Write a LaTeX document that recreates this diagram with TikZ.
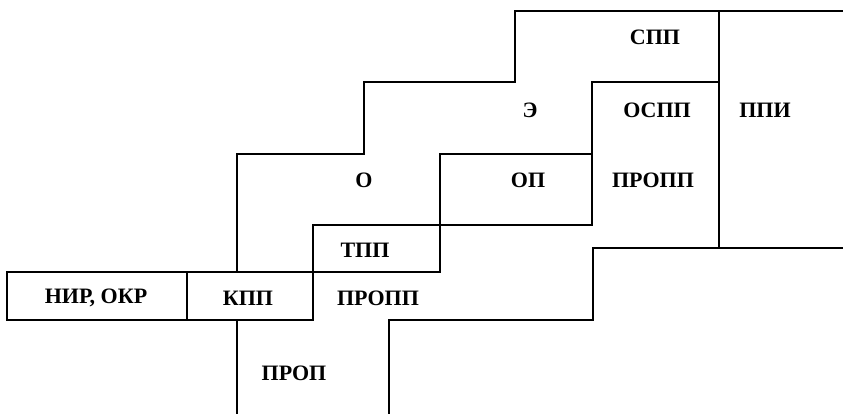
\documentclass[tikz,border=0pt]{standalone}
\usepackage{fontspec}
\setmainfont{Liberation Serif}
\begin{document}
\begin{tikzpicture}[x=1pt,y=-1pt,
  ln/.style={line width=2.2pt,line cap=rect,line join=miter},
  lbl/.style={inner sep=0pt,font=\fontsize{22}{24}\selectfont\bfseries}]
\useasboundingbox (0,0) rectangle (843,414);
% bottom boxes
\draw[ln] (7,272) rectangle (313,320);
\draw[ln] (187,272) -- (187,320);
\draw[ln] (313,272) -- (440,272);
\draw[ln] (313,225) -- (592,225);
\draw[ln] (313,225) -- (313,272);
\draw[ln] (440,154) -- (440,272);
\draw[ln] (440,154) -- (592,154);
% outer staircase
\draw[ln] (237,320) -- (237,414);
\draw[ln] (237,272) -- (237,154) -- (364,154) -- (364,82) -- (515,82) -- (515,11) -- (843,11);
% OSPP
\draw[ln] (592,225) -- (592,82) -- (719,82);
\draw[ln] (719,11) -- (719,248);
% lower staircase
\draw[ln] (389,414) -- (389,320) -- (593,320) -- (593,248) -- (843,248);
% labels
\node[lbl] (spp)   at (655,37)  {СПП};
\node[lbl] (e)     at (530,110) {Э};
\node[lbl] (ospp)  at (657,110) {ОСПП};
\node[lbl] (ppi)   at (765,110) {ППИ};
\node[lbl] (o)     at (364,180) {О};
\node[lbl] (op)    at (528,180) {ОП};
\node[lbl] (propp1) at (653,180) {ПРОПП};
\node[lbl] (tpp)   at (365,250) {ТПП};
\node[lbl] (nir)   at (96,298)  {НИР, ОКР};
\node[lbl] (kpp)   at (248,298) {КПП};
\node[lbl] (propp2) at (378,298) {ПРОПП};
\node[lbl] (prop)  at (294,373) {ПРОП};
\end{tikzpicture}
\end{document}
